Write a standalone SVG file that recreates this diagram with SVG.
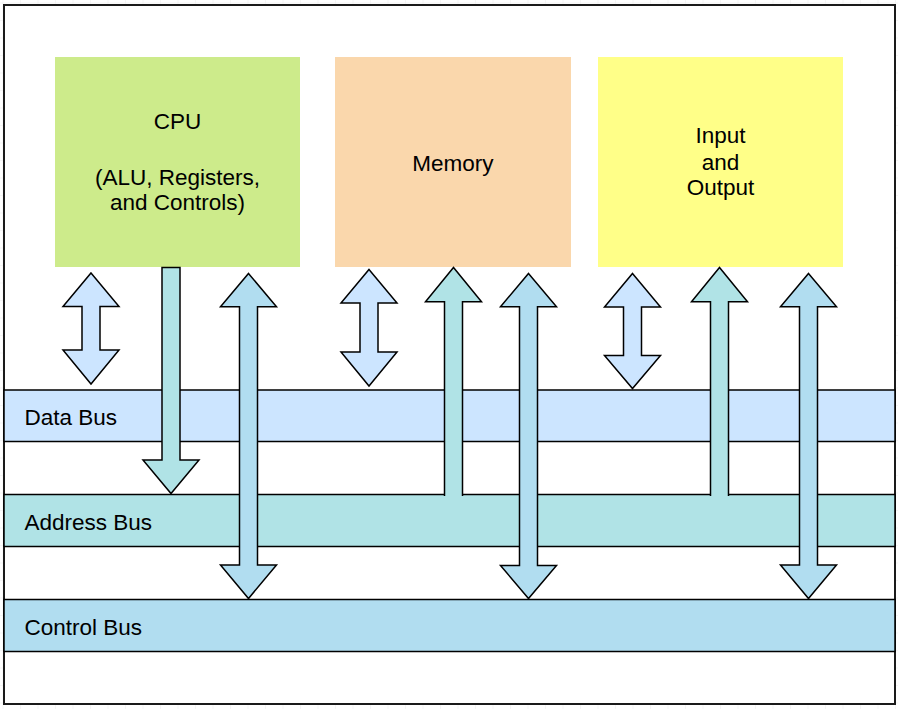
<svg xmlns="http://www.w3.org/2000/svg" width="898" height="709" viewBox="0 0 898 709">
<defs>
<pattern id="grid" x="2.5" y="2.5" width="17.5" height="17.5" patternUnits="userSpaceOnUse">
<path d="M17.5,0 L0,0 L0,17.5" fill="none" stroke="#ececec" stroke-width="1"/>
</pattern>
</defs>
<style>
.lbl{font-family:"Liberation Sans",Arial,sans-serif;font-size:22.5px;fill:#000}
.c{text-anchor:middle}
.bus{stroke:#000;stroke-width:1.5}
.arr{stroke:#000;stroke-width:1.5;stroke-linejoin:miter}
.data{fill:#cce5ff}
.addr{fill:#b0e3e6}
.ctrl{fill:#b1ddf0}
</style>
<rect x="0" y="0" width="898" height="709" fill="#fff"/>
<rect x="0" y="0" width="898" height="709" fill="url(#grid)"/>
<rect id="frame" x="4" y="5" width="891" height="699" fill="#fff" stroke="#1a1a1a" stroke-width="2"/>

<g id="cpu">
<rect x="55" y="57" width="245" height="210" fill="#cdeb8b"/>
<text class="lbl c" x="177.5" y="129">CPU</text>
<text class="lbl c" x="177.5" y="185">(ALU, Registers,</text>
<text class="lbl c" x="177.5" y="210">and Controls)</text>
</g>
<g id="memory">
<rect x="335" y="57" width="236" height="210" fill="#fad7ac"/>
<text class="lbl c" x="453" y="171">Memory</text>
</g>
<g id="io">
<rect x="598" y="57" width="245" height="210" fill="#ffff88"/>
<text class="lbl c" x="720.5" y="143">Input</text>
<text class="lbl c" x="720.5" y="170">and</text>
<text class="lbl c" x="720.5" y="195">Output</text>
</g>

<g id="data-bus">
<rect class="bus data" x="4" y="390" width="891" height="51.5"/>
<text class="lbl" x="24.5" y="425">Data Bus</text>
</g>
<g id="address-bus">
<rect class="bus addr" x="4" y="494.5" width="891" height="52"/>
<text class="lbl" x="24.5" y="530">Address Bus</text>
</g>
<g id="control-bus">
<rect class="bus ctrl" x="4" y="599.5" width="891" height="52"/>
<text class="lbl" x="24.5" y="635">Control Bus</text>
</g>

<g id="connectors">
<!-- data double arrows -->
<path class="arr data" d="M91,273 L119,306.5 L100,306.5 L100,350 L119,350 L91,384 L63,350 L82,350 L82,306.5 L63,306.5 Z"/>
<path class="arr data" d="M369,269.5 L397,303 L378,303 L378,352 L397,352 L369,386 L341,352 L360,352 L360,303 L341,303 Z"/>
<path class="arr data" d="M632.5,273.5 L660.5,307 L641.5,307 L641.5,355.5 L660.5,355.5 L632.5,388.5 L604.5,355.5 L623.5,355.5 L623.5,307 L604.5,307 Z"/>
<!-- address arrows -->
<path class="arr addr" d="M162,267.5 L180,267.5 L180,460 L199,460 L171,493.5 L143,460 L162,460 Z"/>
<path class="arr addr" d="M444.5,496 L444.5,301.7 L425.5,301.7 L453.5,267.5 L481.5,301.7 L462.5,301.7 L462.5,496"/>
<path class="arr addr" d="M710.5,496 L710.5,301.7 L691.5,301.7 L719.5,267.5 L747.5,301.7 L728.5,301.7 L728.5,496"/>
<!-- control double arrows -->
<path class="arr ctrl" d="M248.5,273.5 L276.5,306.7 L257.5,306.7 L257.5,565 L276.5,565 L248.5,598.5 L220.5,565 L239.5,565 L239.5,306.7 L220.5,306.7 Z"/>
<path class="arr ctrl" d="M528.5,273.5 L556.5,306.7 L537.5,306.7 L537.5,565.5 L556.5,565.5 L528.5,598.5 L500.5,565.5 L519.5,565.5 L519.5,306.7 L500.5,306.7 Z"/>
<path class="arr ctrl" d="M808.5,273.5 L836.5,306.7 L817.5,306.7 L817.5,565 L836.5,565 L808.5,598.5 L780.5,565 L799.5,565 L799.5,306.7 L780.5,306.7 Z"/>
</g>
</svg>
